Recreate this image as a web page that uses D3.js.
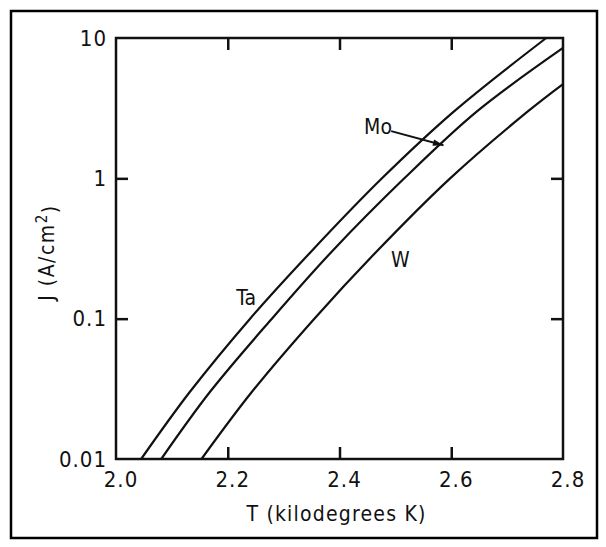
<!DOCTYPE html>
<html>
<head>
<meta charset="utf-8">
<script src="https://cdn.jsdelivr.net/npm/d3@7"></script>
<style>
  body { margin: 0; background: #fff; }
  text { font-family: "DejaVu Sans Condensed", "DejaVu Sans", sans-serif; fill: #111; }
</style>
</head>
<body>
<div id="chart"></div>
<script>
// Emission current density J (A/cm^2) vs temperature T (kilodegrees K)
const taPoints = [[2.045, 0.01], [2.132, 0.03], [2.240, 0.1], [2.349, 0.3], [2.476, 1], [2.605, 3], [2.770, 10]];
const moPoints = [[2.081, 0.01], [2.168, 0.03], [2.279, 0.1], [2.386, 0.3], [2.516, 1], [2.646, 3], [2.800, 8.5]];
const wPoints  = [[2.153, 0.01], [2.243, 0.03], [2.355, 0.1], [2.466, 0.3], [2.598, 1], [2.737, 3], [2.800, 4.7]];

const xTicks = [2.0, 2.2, 2.4, 2.6, 2.8];
const yTicks = [0.01, 0.1, 1, 10];
const yTickLabels = ["0.01", "0.1", "1", "10"];

const W = 606, H = 547;
const margin = {top: 38, right: 43, bottom: 88, left: 116};
const width = W - margin.left - margin.right;
const height = H - margin.top - margin.bottom;

const svg = d3.select("#chart")
    .append("svg")
    .attr("width", W)
    .attr("height", H);

svg.append("rect")
    .attr("width", W).attr("height", H)
    .attr("fill", "#fff");

// outer frame
svg.append("rect")
    .attr("x", 11).attr("y", 11)
    .attr("width", 586).attr("height", 527)
    .attr("fill", "none")
    .attr("stroke", "#000")
    .attr("stroke-width", 2.5);

const g = svg.append("g")
    .attr("transform", `translate(${margin.left},${margin.top})`);

const x = d3.scaleLinear().domain([2.0, 2.8]).range([0, width]);
const y = d3.scaleLog().domain([0.01, 10]).range([height, 0]);

// curves
const line = d3.line()
    .x(d => x(d[0]))
    .y(d => y(d[1]))
    .curve(d3.curveCatmullRom.alpha(0.5));

[taPoints, moPoints, wPoints].forEach(pts => {
    g.append("path")
        .datum(pts)
        .attr("fill", "none")
        .attr("stroke", "#111")
        .attr("stroke-width", 2.2)
        .attr("d", line);
});

// axes: inward ticks, frame box
const innerX = xTicks.slice(1, -1);
const innerY = yTicks.slice(1, -1);

g.append("g")
    .attr("transform", `translate(0,${height})`)
    .call(d3.axisBottom(x).tickValues(innerX).tickSize(-12).tickFormat(""))
    .call(a => a.select(".domain").remove());
g.append("g")
    .call(d3.axisTop(x).tickValues(innerX).tickSize(-12).tickFormat(""))
    .call(a => a.select(".domain").remove());
g.append("g")
    .call(d3.axisLeft(y).tickValues(innerY).tickSize(-12).tickFormat(""))
    .call(a => a.select(".domain").remove());
g.append("g")
    .attr("transform", `translate(${width},0)`)
    .call(d3.axisRight(y).tickValues(innerY).tickSize(-12).tickFormat(""))
    .call(a => a.select(".domain").remove());

g.selectAll(".tick line")
    .attr("stroke", "#111")
    .attr("stroke-width", 2.5);

g.append("rect")
    .attr("width", width).attr("height", height)
    .attr("fill", "none")
    .attr("stroke", "#111")
    .attr("stroke-width", 2.5);

// tick labels
g.selectAll("text.xlab")
    .data(xTicks)
    .enter().append("text")
    .attr("class", "xlab")
    .attr("x", d => x(d) + 5)
    .attr("y", height + 28)
    .attr("text-anchor", "middle")
    .style("font-size", "22px")
    .style("letter-spacing", "1px")
    .text(d => d.toFixed(1));

g.selectAll("text.ylab")
    .data(yTicks)
    .enter().append("text")
    .attr("class", "ylab")
    .attr("x", -9)
    .attr("y", d => y(d))
    .attr("dy", "0.35em")
    .attr("text-anchor", "end")
    .style("font-size", "22px")
    .style("letter-spacing", "1px")
    .text((d, i) => yTickLabels[i]);

// axis titles
g.append("text")
    .attr("x", width / 2 - 3)
    .attr("y", height + 62)
    .attr("text-anchor", "middle")
    .style("font-size", "21px")
    .style("letter-spacing", "1.2px")
    .text("T (kilodegrees K)");

const yt = g.append("text")
    .attr("transform", `translate(${-62},${height / 2 + 4}) rotate(-90)`)
    .attr("text-anchor", "middle")
    .style("font-size", "21px")
    .style("letter-spacing", "1.5px");
yt.append("tspan").text("J (A/cm");
yt.append("tspan").attr("dy", "-0.45em").style("font-size", "15px").text("2");
yt.append("tspan").attr("dy", "0.45em").text(")");

// curve labels
g.append("text")
    .attr("x", x(2.233)).attr("y", y(0.125))
    .attr("text-anchor", "middle")
    .style("font-size", "21px")
    .text("Ta");
g.append("text")
    .attr("x", x(2.509)).attr("y", y(0.233))
    .attr("text-anchor", "middle")
    .style("font-size", "21px")
    .text("W");
g.append("text")
    .attr("x", x(2.469)).attr("y", y(2.07))
    .attr("text-anchor", "middle")
    .style("font-size", "21px")
    .text("Mo");

// arrow from Mo label to the Mo curve
const arrowTip = [2.586, 1.72];
const arrowTail = [2.4925, 2.17];
g.append("line")
    .attr("x1", x(arrowTail[0])).attr("y1", y(arrowTail[1]))
    .attr("x2", x(arrowTip[0])).attr("y2", y(arrowTip[1]))
    .attr("stroke", "#111")
    .attr("stroke-width", 2);
{
    const x2 = x(arrowTip[0]), y2 = y(arrowTip[1]);
    const ang = Math.atan2(y2 - y(arrowTail[1]), x2 - x(arrowTail[0]));
    const len = 11, spread = 0.3;
    const p = [
        [x2, y2],
        [x2 - len * Math.cos(ang - spread), y2 - len * Math.sin(ang - spread)],
        [x2 - len * Math.cos(ang + spread), y2 - len * Math.sin(ang + spread)]
    ];
    g.append("path")
        .attr("d", "M" + p.join("L") + "Z")
        .attr("fill", "#111");
}
</script>
</body>
</html>
